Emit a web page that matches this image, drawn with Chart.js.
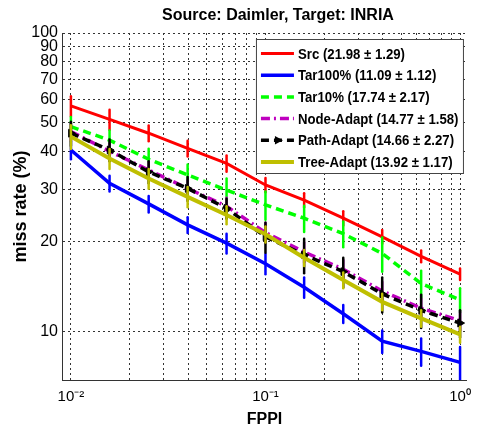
<!DOCTYPE html>
<html>
<head>
<meta charset="utf-8">
<script src="https://cdn.jsdelivr.net/npm/chart.js@4.4.0/dist/chart.umd.min.js"></script>
<style>
    html, body { margin:0; padding:0; background:#fff; }
</style>
</head>
<body>
<canvas id="myChart" width="479" height="433"></canvas>
<script>
// FPPI sample points (5 per decade, 10^-2 .. 10^0)
var fppi = [0.01, 0.0158, 0.0251, 0.0398, 0.0631, 0.1, 0.158, 0.251, 0.398, 0.631, 1];

// miss rate (%) of each method
var src      = [57.0, 51.4, 46.2, 41.1, 36.6, 31.0, 27.6, 24.0, 20.8, 17.9, 15.6];
var tar100   = [40.6, 31.4, 26.8, 22.8, 19.8, 16.9, 14.1, 11.5, 9.3, 8.6, 7.9];
var tar10    = [48.6, 43.8, 37.8, 33.5, 29.8, 26.6, 24.0, 21.3, 18.3, 14.5, 12.8];
var nodeAd   = [46.8, 40.2, 34.8, 30.2, 26.3, 21.5, 18.5, 16.2, 13.7, 12.0, 10.9];
var pathAd   = [46.2, 40.6, 34.3, 30.2, 25.9, 20.8, 18.1, 15.9, 13.4, 11.8, 10.7];
var treeAd   = [45.0, 38.0, 32.6, 28.3, 24.6, 21.2, 17.7, 14.9, 12.6, 11.1, 9.8];

// +/- error bar half-lengths (%)
var srcErr    = [4.4, 4.0, 2.8, 2.5, 2.3, 1.7, 1.5, 1.3, 1.1, 0.8, 0.7];
var tar100Err = [2.8, 1.9, 1.7, 1.4, 1.5, 1.3, 1.1, 0.8, 0.8, 0.9, 1.0];
var tar10Err  = [3.7, 3.4, 3.2, 2.8, 2.8, 2.9, 2.4, 2.1, 2.4, 1.5, 1.2];
var nodeErr   = [3.0, 2.5, 2.2, 2.0, 1.8, 1.6, 1.4, 1.2, 1.0, 0.9, 0.8];
var pathErr   = [4.3, 3.4, 2.9, 2.8, 2.0, 2.4, 2.4, 1.8, 1.8, 1.5, 1.1];
var treeErr   = [4.1, 2.9, 2.5, 2.2, 1.7, 1.3, 1.1, 0.9, 0.8, 0.7, 0.6];

var names = [
    'Src (21.98 \u00b1 1.29)',
    'Tar100% (11.09 \u00b1 1.12)',
    'Tar10% (17.74 \u00b1 2.17)',
    'Node-Adapt (14.77 \u00b1 1.58)',
    'Path-Adapt (14.66 \u00b1 2.27)',
    'Tree-Adapt (13.92 \u00b1 1.17)'
];

// grid / tick positions
var xTicks = [0.01, 0.02, 0.03, 0.04, 0.05, 0.06, 0.07, 0.08, 0.09,
              0.1, 0.2, 0.3, 0.4, 0.5, 0.6, 0.7, 0.8, 0.9, 1];
var xTickLabels = { '0.01': '10\u207b\u00b2', '0.1': '10\u207b\u00b9', '1': '10\u2070' };
var yTicks = [10, 20, 30, 40, 50, 60, 70, 80, 90, 100];

var errs = [srcErr, tar100Err, tar10Err, nodeErr, pathErr, treeErr];

var FONT = '"Liberation Sans", Arial, sans-serif';

function pts(ys) {
    return fppi.map(function(x, i) { return { x: x, y: ys[i] }; });
}

// vertical error bars, drawn right after each line so stacking matches
var errorBars = {
    id: 'errorBars',
    afterDatasetDraw: function(chart, args) {
        var ds = chart.data.datasets[args.index];
        var err = errs[args.index];
        var ctx = chart.ctx, xs = chart.scales.x, ys = chart.scales.y, a = chart.chartArea;
        ctx.save();
        ctx.beginPath();
        ctx.rect(a.left, a.top, a.right - a.left, a.bottom - a.top);
        ctx.clip();
        ctx.strokeStyle = ds.borderColor;
        ctx.lineWidth = 2.5;
        ctx.lineCap = 'round';
        ctx.setLineDash([]);
        ds.data.forEach(function(p, i) {
            var px = xs.getPixelForValue(p.x);
            ctx.beginPath();
            ctx.moveTo(px, ys.getPixelForValue(p.y + err[i]));
            ctx.lineTo(px, ys.getPixelForValue(p.y - err[i]));
            ctx.stroke();
        });
        ctx.restore();
    }
};

function triangleRight(ctx, cx, cy, r) {
    ctx.beginPath();
    ctx.moveTo(cx + r, cy);
    ctx.lineTo(cx - r * 0.6, cy - r * 0.85);
    ctx.lineTo(cx - r * 0.6, cy + r * 0.85);
    ctx.closePath();
    ctx.fill();
}

// boxed legend in the upper right of the axes (matlab style)
var boxLegend = {
    id: 'boxLegend',
    afterDraw: function(chart) {
        var ctx = chart.ctx, a = chart.chartArea;
        var w = 207, h = 134, rowH = 21.7;
        var left = a.right - 4 - w, top = a.top + 6;
        ctx.save();
        ctx.fillStyle = '#fff';
        ctx.fillRect(left, top, w, h);
        ctx.strokeStyle = '#444';
        ctx.lineWidth = 1;
        ctx.strokeRect(left + 0.5, top + 0.5, w, h);
        chart.data.datasets.forEach(function(ds, i) {
            var yy = top + 14.5 + i * rowH;
            ctx.strokeStyle = ds.borderColor;
            ctx.lineWidth = ds.borderWidth;
            ctx.setLineDash(ds.borderDash || []);
            ctx.beginPath();
            ctx.moveTo(left + 5, yy);
            ctx.lineTo(left + 38, yy);
            ctx.stroke();
            ctx.setLineDash([]);
            if (ds.pointRadius > 0) {
                ctx.fillStyle = ds.borderColor;
                triangleRight(ctx, left + 22, yy, 5);
            }
            // the source figure is squeezed sideways, so narrow the text a bit
            ctx.save();
            ctx.translate(left + 42, yy + 1);
            ctx.scale(0.88, 1);
            ctx.fillStyle = '#000';
            ctx.font = 'bold 15px ' + FONT;
            ctx.textBaseline = 'middle';
            ctx.fillText(ds.label, 0, 0);
            ctx.restore();
        });
        ctx.restore();
    }
};

// matlab centres the title a bit right of the canvas centre
var titleShift = {
    id: 'titleShift',
    afterLayout: function(chart) {
        chart.titleBlock.left = 83;
    }
};

var ctx = document.getElementById('myChart').getContext('2d');
var chart = new Chart(ctx, {
    type: 'line',
    data: {
        datasets: [
            { label: names[0], data: pts(src), borderColor: '#ff0000', borderWidth: 3, pointRadius: 0, order: 5 },
            { label: names[1], data: pts(tar100), borderColor: '#0000ff', borderWidth: 3.5, pointRadius: 0, order: 4 },
            { label: names[2], data: pts(tar10), borderColor: '#00ff00', borderWidth: 3.5, borderDash: [8, 5], pointRadius: 0, order: 3 },
            { label: names[3], data: pts(nodeAd), borderColor: '#bf00bf', borderWidth: 3.5, borderDash: [9, 4, 2, 4], pointRadius: 0, order: 2 },
            { label: names[4], data: pts(pathAd), borderColor: '#000000', backgroundColor: '#000000', borderWidth: 3.5, borderDash: [8, 5],
              pointStyle: 'triangle', pointRotation: 90, pointRadius: 4.5, pointBorderWidth: 1, order: 1 },
            { label: names[5], data: pts(treeAd), borderColor: '#bfbf00', borderWidth: 4, pointRadius: 0, order: 0 }
        ]
    },
    options: {
        responsive: false,
        animation: false,
        devicePixelRatio: 1,
        layout: { padding: { left: 0, right: 6, top: 0, bottom: 0 } },
        plugins: {
            legend: { display: false },
            tooltip: { enabled: false },
            title: {
                display: true,
                text: 'Source: Daimler, Target: INRIA',
                color: '#000',
                font: { family: FONT, size: 16, weight: 'bold', lineHeight: 1.2 },
                padding: { top: 6, bottom: 7.8 }
            }
        },
        scales: {
            x: {
                type: 'logarithmic',
                min: 0.009,
                max: 1.085,
                bounds: 'data',
                afterBuildTicks: function(axis) {
                    axis.ticks = xTicks.map(function(v) { return { value: v }; });
                },
                afterFit: function(axis) { axis.height = 53; },
                ticks: {
                    autoSkip: false,
                    maxRotation: 0,
                    padding: 8,
                    color: '#000',
                    font: { family: FONT, size: 15 },
                    callback: function(value) { return xTickLabels[String(value)] || ''; }
                },
                grid: { color: '#333', lineWidth: 1, drawTicks: false },
                border: { display: true, color: '#333', width: 1, dash: [2, 3] },
                title: {
                    display: true,
                    text: 'FPPI',
                    color: '#000',
                    font: { family: FONT, size: 16, weight: 'bold', lineHeight: 1.2 },
                    padding: { top: 0, bottom: 4 }
                }
            },
            y: {
                type: 'logarithmic',
                min: 6.9,
                max: 100,
                bounds: 'data',
                afterBuildTicks: function(axis) {
                    axis.ticks = yTicks.map(function(v) { return { value: v }; });
                },
                afterFit: function(axis) { axis.width = 62; },
                ticks: {
                    autoSkip: false,
                    padding: 4,
                    color: '#000',
                    font: { family: FONT, size: 16 },
                    callback: function(value) { return String(value); }
                },
                grid: { color: '#333', lineWidth: 1, drawTicks: false },
                border: { display: true, color: '#333', width: 1, dash: [2, 3] },
                title: {
                    display: true,
                    text: 'miss rate (%)',
                    color: '#000',
                    font: { family: FONT, size: 18, weight: 'bold', lineHeight: 1.2 },
                    padding: { top: 10, bottom: 0 }
                }
            }
        }
    },
    plugins: [errorBars, boxLegend, titleShift]
});
</script>
</body>
</html>
